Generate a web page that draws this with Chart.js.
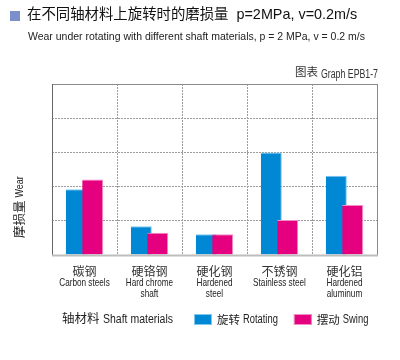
<!DOCTYPE html>
<html>
<head>
<meta charset="utf-8">
<script src="https://cdn.jsdelivr.net/npm/chart.js@4.4.1/dist/chart.umd.min.js"></script>
<style>
  html, body { margin: 0; padding: 0; background: #fff; }
  #wrap { position: relative; width: 400px; height: 360px; overflow: hidden; }
  canvas { position: absolute; left: 0; top: 0; }
  .t { position: absolute; white-space: nowrap; color: #111; line-height: 1; }
  .n { font-family: "Liberation Sans", Arial, sans-serif; transform-origin: 0 50%; }
  .z { font-family: "Noto Sans CJK SC", sans-serif; }
  #sq { position: absolute; left: 10px; top: 11px; width: 10px; height: 10px; background: #7b8fcb; }
  #title { left: 27px; top: 7px; font-size: 14.4px; font-family: "Liberation Sans", "Noto Sans CJK SC", sans-serif; }
  #sub { left: 28px; top: 31px; font-size: 11.5px; color: #222; }
  #g1 { left: 295px; top: 66px; font-size: 11.5px; color: #333; }
  #g2 { left: 321px; top: 68px; font-size: 12px; color: #333; }
  #x1 { left: 62px; top: 312px; font-size: 12.5px; color: #222; }
  #x2 { left: 103px; top: 313px; font-size: 12px; color: #222; }
</style>
</head>
<body>
<div id="wrap">
  <canvas id="c" width="400" height="360"></canvas>
  <div id="sq"></div>
  <div class="t" id="title">在不同轴材料上旋转时的磨损量&nbsp;&nbsp;p=2MPa, v=0.2m/s</div>
  <div class="t n" id="sub" data-w="337">Wear under rotating with different shaft materials, p = 2 MPa, v = 0.2 m/s</div>
  <div class="t z" id="g1">图表</div>
  <div class="t n" id="g2" data-w="57">Graph EPB1-7</div>
  <div class="t z" id="x1">轴材料</div>
  <div class="t n" id="x2" data-w="70">Shaft materials</div>
</div>
<script>
// ---- data ----
const categoriesZh = ['碳钢', '硬铬钢', '硬化钢', '不锈钢', '硬化铝'];
const categoriesEn = [['Carbon steels'], ['Hard chrome', 'shaft'], ['Hardened', 'steel'], ['Stainless steel'], ['Hardened', 'aluminum']];
const rotatingValues = [1.92, 0.84, 0.61, 3.0, 2.32];
const swingValues = [2.21, 0.65, 0.61, 1.02, 1.46];
const seriesZh = ['旋转', '摆动'];
const seriesEn = ['Rotating', 'Swing'];
const yAxisTitleZh = '摩损量';
const yAxisTitleEn = 'Wear';
const yMax = 5;

// narrow latin text in HTML
document.querySelectorAll('[data-w]').forEach(el => {
  const w = el.getBoundingClientRect().width;
  el.style.transform = 'scaleX(' + (Number(el.dataset.w) / w) + ')';
});

const LAT = '"Liberation Sans", Arial, sans-serif';
const CJK = '"Noto Sans CJK SC", "Liberation Sans", sans-serif';

function narrowText(ctx, text, x, y, align, k) {
  ctx.save();
  const w = ctx.measureText(text).width * k;
  let sx = x;
  if (align === 'center') sx = x - w / 2;
  else if (align === 'right') sx = x - w;
  ctx.translate(sx, y);
  ctx.scale(k, 1);
  ctx.textAlign = 'left';
  ctx.fillText(text, 0, 0);
  ctx.restore();
  return w;
}

const customDraw = {
  id: 'customDraw',
  beforeDatasetsDraw(chart) {
    // draw later datasets on top of earlier ones
    if (typeof chart._drawDataset !== 'function') return true;
    const metas = chart.getSortedVisibleDatasetMetas();
    for (const m of metas) chart._drawDataset(m);
    return false;
  },
  afterDraw(chart) {
    const {ctx, chartArea: a, scales} = chart;
    ctx.save();
    // frame
    ctx.lineWidth = 1;
    ctx.strokeStyle = '#8a8a8a';
    ctx.beginPath();
    ctx.moveTo(a.left, a.top + 0.5); ctx.lineTo(a.right + 0.5, a.top + 0.5); ctx.lineTo(a.right + 0.5, a.bottom);
    ctx.stroke();
    ctx.strokeStyle = '#666';
    ctx.beginPath();
    ctx.moveTo(a.left + 0.5, a.top); ctx.lineTo(a.left + 0.5, a.bottom);
    ctx.stroke();
    ctx.strokeStyle = '#bdbdbd';
    ctx.lineWidth = 2;
    ctx.beginPath();
    ctx.moveTo(a.left, a.bottom + 0.5); ctx.lineTo(a.right + 1, a.bottom + 0.5);
    ctx.stroke();

    // category labels
    const xs = scales.x;
    ctx.textBaseline = 'middle';
    categoriesZh.forEach((zh, i) => {
      const x = xs.getPixelForValue(i);
      ctx.fillStyle = '#333';
      ctx.font = '12px ' + CJK;
      ctx.textAlign = 'center';
      ctx.fillText(zh, x, a.bottom + 16);
      ctx.fillStyle = '#222';
      ctx.font = '10.5px ' + LAT;
      categoriesEn[i].forEach((line, j) => narrowText(ctx, line, x, a.bottom + 28.5 + j * 11, 'center', 0.78));
    });

    // y title (rotated)
    ctx.save();
    ctx.translate(19, a.bottom - 17);
    ctx.rotate(-Math.PI / 2);
    ctx.textAlign = 'left';
    ctx.fillStyle = '#222';
    ctx.font = '12.5px ' + CJK;
    ctx.fillText(yAxisTitleZh, 0, 0);
    const zw = ctx.measureText(yAxisTitleZh).width;
    ctx.font = '11.5px ' + LAT;
    narrowText(ctx, yAxisTitleEn, zw + 3, 0.5, 'left', 0.78);
    ctx.restore();

    // legend
    let lx = 194;
    const ly = 319.5;
    chart.data.datasets.forEach((ds, i) => {
      ctx.fillStyle = ds.backgroundColor;
      ctx.fillRect(lx, ly - 5.5, 18, 11);
      ctx.strokeStyle = ds.borderColor;
      ctx.lineWidth = 1;
      ctx.strokeRect(lx + 0.5, ly - 5, 17, 10);
      lx += 23;
      ctx.fillStyle = '#222';
      ctx.textAlign = 'left';
      ctx.font = '11.5px ' + CJK;
      ctx.fillText(seriesZh[i], lx, ly);
      lx += ctx.measureText(seriesZh[i]).width + 3;
      ctx.font = '12px ' + LAT;
      lx += narrowText(ctx, seriesEn[i], lx, ly + 0.5, 'left', 0.78);
      lx += 16;
    });
    ctx.restore();
  }
};

new Chart(document.getElementById('c'), {
  type: 'bar',
  data: {
    labels: categoriesZh,
    datasets: [
      {
        label: seriesZh[0] + ' ' + seriesEn[0], data: rotatingValues,
        backgroundColor: '#0088d4', borderColor: '#7cc8ef',
        borderWidth: {top: 1, right: 1, left: 0, bottom: 0}, borderSkipped: 'start'
      },
      {
        label: seriesZh[1] + ' ' + seriesEn[1], data: swingValues,
        backgroundColor: '#e4007f', borderColor: '#f38cc2',
        borderWidth: {top: 1, right: 1, left: 0, bottom: 0}, borderSkipped: 'start'
      }
    ]
  },
  options: {
    responsive: false,
    devicePixelRatio: 1,
    animation: false,
    categoryPercentage: 0.505,
    barPercentage: 1.28,
    layout: { padding: { top: 84, left: 52, right: 23, bottom: 60 } },
    plugins: {
      title: { display: false },
      tooltip: { enabled: false },
      legend: { display: false }
    },
    scales: {
      x: {
        ticks: { display: false },
        grid: { color: '#9c9c9c', drawTicks: false, lineWidth: 1 },
        border: { display: false, dash: [2, 1] },
        afterFit(scale) { scale.height = 45; }
      },
      y: {
        min: 0, max: yMax,
        ticks: { display: false, stepSize: 1 },
        grid: { color: '#9c9c9c', drawTicks: false, lineWidth: 1 },
        border: { display: false, dash: [2, 1] }
      }
    }
  },
  plugins: [customDraw]
});
</script>
</body>
</html>
